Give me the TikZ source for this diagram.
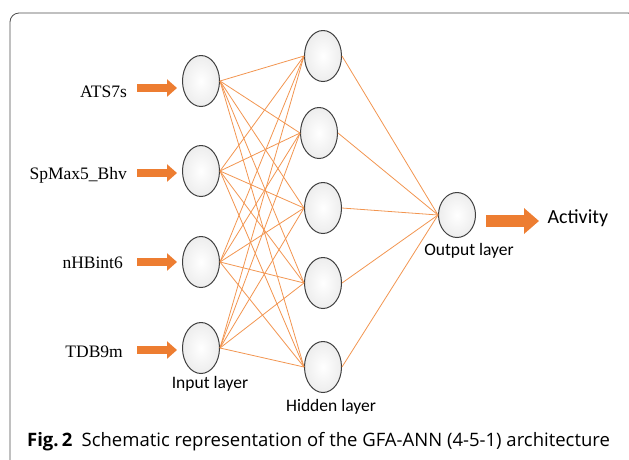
\documentclass[tikz,border=0pt]{standalone}
\usepackage{fontspec}
\setmainfont{Liberation Serif}
\newfontfamily\labfont{Carlito}
\newfontfamily\capfont{Open Sans}
\usepackage{xcolor}
\usetikzlibrary{arrows.meta,shapes.geometric,positioning}
\definecolor{arrorange}{HTML}{ED7D31}
\definecolor{linkorange}{HTML}{F29550}

\begin{document}
\begin{tikzpicture}[x=1pt,y=-1pt]
\tikzset{neuron/.style={ellipse,draw=gray!50!black,line width=1pt,inner color=white,outer color=gray!14,minimum width=37pt,minimum height=51pt}}
\tikzset{link/.style={linkorange,line width=0.8pt}}
\tikzset{inarrow/.style={arrorange,line width=8pt,-{Triangle[length=10pt,width=17pt]}}}
\tikzset{outarrow/.style={arrorange,line width=12pt,-{Triangle[length=15pt,width=25pt]}}}
\tikzset{inlabel/.style={font=\fontsize{17.5}{17.5}\selectfont,inner sep=0pt}}
\tikzset{layerlabel/.style={font=\labfont\fontsize{17.5}{17.5}\selectfont}}

\useasboundingbox (0,0) rectangle (629,459);

% frame
\draw[gray!60!black,line width=0.8pt,rounded corners=9pt] (10,470) -- (10,13) -- (637,13) -- (637,60);

% neurons
\node[neuron] (i1) at (201,81) {};
\node[neuron] (i2) at (201,171) {};
\node[neuron] (i3) at (201,262) {};
\node[neuron] (i4) at (201,348) {};
\node[neuron] (h1) at (323,56) {};
\node[neuron] (h2) at (319,133) {};
\node[neuron] (h3) at (323,208) {};
\node[neuron] (h4) at (323,283) {};
\node[neuron] (h5) at (323,367) {};
\node[neuron,minimum height=45pt] (o) at (457,215) {};

% weights
\foreach \i in {1,...,4}
  \foreach \h in {1,...,5}
    \draw[link] (i\i.east) -- (h\h.west);
\foreach \h in {1,...,5}
  \draw[link] (h\h.east) -- (o.west);

% inputs
\node[inlabel,anchor=base east] (x1) at (127,97) {ATS7s};
\node[inlabel,anchor=base east] (x2) at (127,179) {SpMax5\_Bhv};
\node[inlabel,anchor=base east] (x3) at (123,268) {nHBint6};
\node[inlabel,anchor=base east] (x4) at (123,357) {TDB9m};
\coordinate (a1) at (137,88);
\coordinate (a2) at (137,173);
\coordinate (a3) at (137,262);
\coordinate (a4) at (137,350);
\foreach \i in {1,...,4}
  \draw[inarrow] (a\i) -- ([xshift=-5pt]a\i -| i\i.west);

% layers
\node[layerlabel] (inlay) at (210,384) {Input layer};
\node[layerlabel] (hidlay) at (331,407) {Hidden layer};
\node[layerlabel] (outlay) at (469,251) {Output layer};

% output
\node[layerlabel,anchor=west,font=\labfont\fontsize{20}{20}\selectfont] (act) at (544,218) {Activity};
\draw[outarrow] ([xshift=10pt]o.east |- 0,221) -- ([xshift=-5pt]act.west |- 0,221);

% caption
\node[anchor=base west,font=\capfont\fontsize{18.5}{18.5}\selectfont,inner sep=0pt] (cap) at (27,446)
  {\textbf{Fig.\,2}\enspace Schematic representation of the GFA-ANN (4-5-1) architecture};

\end{tikzpicture}
\end{document}
